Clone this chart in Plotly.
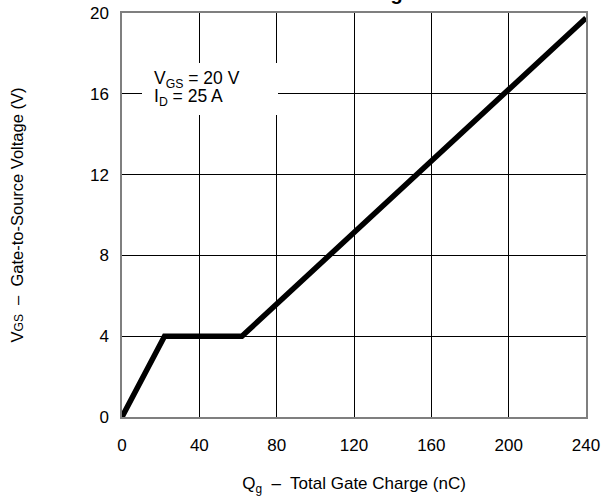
import plotly.graph_objects as go

# Gate charge curve: V_GS versus total gate charge Q_g
charge_nc = [0, 22, 62, 240]
vgs_volts = [0, 4, 4, 19.75]

x_ticks = [0, 40, 80, 120, 160, 200, 240]
y_ticks = [0, 4, 8, 12, 16, 20]

FONT = "Liberation Sans, Arial, Helvetica, sans-serif"

# plot area in pixels
L, R, T, B = 122, 586, 13, 417
W, H = R - L, B - T


def px_x(p):
    return (p - L) / W


def px_y(p):
    return (B - p) / H


fig = go.Figure()
fig.add_trace(go.Scatter(
    x=charge_nc, y=vgs_volts, mode="lines",
    line=dict(color="black", width=5.5),
    hoverinfo="skip", showlegend=False, cliponaxis=False,
))

fig.update_layout(
    width=613, height=496,
    margin=dict(l=L, r=613 - R, t=T, b=496 - B),
    paper_bgcolor="white", plot_bgcolor="white",
    font=dict(family=FONT, size=17, color="black"),
    showlegend=False,
)

fig.update_xaxes(
    range=[0, 240], tickvals=x_ticks, ticktext=[str(v) for v in x_ticks],
    showgrid=True, gridcolor="black", gridwidth=1,
    showline=True, linecolor="#7f7f7f", linewidth=1.5, mirror=True,
    zeroline=False, ticks="", ticklabelstandoff=12, automargin=False,
    tickfont=dict(size=17),
    title=dict(text="Q<sub>g</sub>  –  Total Gate Charge (nC)", standoff=26,
               font=dict(size=17)),
)
fig.update_yaxes(
    range=[0, 20], tickvals=y_ticks, ticktext=[str(v) for v in y_ticks],
    showgrid=True, gridcolor="black", gridwidth=1,
    showline=True, linecolor="#7f7f7f", linewidth=1.5, mirror=True,
    zeroline=False, ticks="", ticklabelstandoff=8, automargin=False,
    tickfont=dict(size=17),
    title=dict(text="V<span style='font-size:12px'>GS</span>  –  Gate-to-Source Voltage (V)",
               standoff=62, font=dict(size=16.5)),
)

# Test-condition label on a white box over the grid
fig.add_shape(type="rect", xref="paper", yref="paper",
              x0=px_x(142), x1=px_x(278), y0=px_y(115), y1=px_y(63),
              fillcolor="white", line=dict(width=0), layer="above")
for text, ypix in [("V<sub>GS</sub> = 20 V", 79), ("I<sub>D</sub> = 25 A", 98)]:
    fig.add_annotation(
        xref="paper", yref="paper", x=px_x(153), y=px_y(ypix),
        xanchor="left", yanchor="middle", align="left", showarrow=False,
        text=text, font=dict(size=17.5, family=FONT), borderpad=0,
    )

# Chart title, mostly above the visible page
fig.add_annotation(
    xref="paper", yref="paper", x=0.5, y=1, yanchor="bottom",
    yshift=7, showarrow=False, text="<b>Gate Charge</b>",
    font=dict(size=20, family=FONT),
)

fig.write_html("out.html")
